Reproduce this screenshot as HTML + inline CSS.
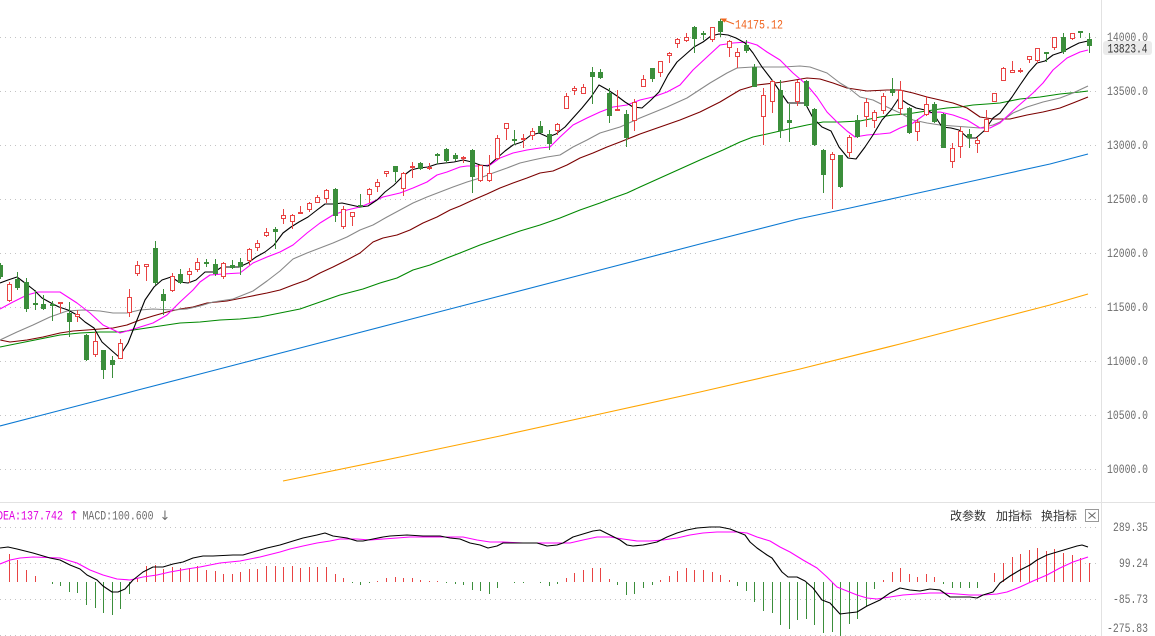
<!DOCTYPE html>
<html><head><meta charset="utf-8"><style>
html,body{margin:0;padding:0;background:#fff;}
svg{display:block;}
.ax{font-family:"Liberation Mono",monospace;font-size:13px;fill:#6e6e6e;}
</style></head><body>
<svg width="1155" height="636" viewBox="0 0 1155 636" xmlns="http://www.w3.org/2000/svg">
<rect width="1155" height="636" fill="#fff"/>
<g stroke="#c4c4c4" stroke-width="1" stroke-dasharray="1 4" fill="none" shape-rendering="crispEdges">
<path d="M0 37.5H1098M0 91.5H1098M0 145.5H1098M0 199.5H1098M0 253.5H1098M0 307.5H1098M0 361.5H1098M0 415.5H1098M0 469.5H1098"/>
<path d="M0 527.5H1098M0 563.5H1098M0 599.5H1098M0 635.5H1098"/>
</g>
<g stroke="#e2e2e2" stroke-width="1" shape-rendering="crispEdges">
<path d="M0 502.5H1155"/>
<path d="M1101.5 0V636"/>
</g>
<g fill="none" stroke-width="1.1" stroke-linejoin="round">
<polyline stroke="#ffa500" points="283,481 400,457 500,436 600,414 700,392 800,369 900,344 1000,318 1050,305 1088,294"/>
<polyline stroke="#0a78d2" points="0,426 50,413 100,400 138,390 200,374 250,361 300,348 400,322 500,296 600,270 700,244 798,219 850,208 900,197 950,186 1000,175 1050,164 1088,154"/>
<polyline stroke="#008800" points="0,347 20,343 40,339 60,335 80,333 100,332 120,332 140,329 160,326 180,323 200,322 220,320 240,319 260,317 280,313 300,309 320,302 340,295 363,289 380,283 397,278 413,270 430,265 447,258 460,253 480,245 500,238 520,231 540,225 560,218 580,210 600,203 613,198 627,193 640,187 660,178 680,169 700,160 723,150 740,142 753,137 767,134 780,131 793,128 807,125 823,122 840,122 860,121 880,117 893,115 907,114 920,112 933,110 947,108 960,107 973,105 987,104 1000,103 1020,99 1040,97 1060,94 1080,92 1088,91"/>
<polyline stroke="#7b0000" points="0,340 10,342 27,340 43,337 60,333 73,331 87,330 100,329 113,328 127,325 140,320 153,316 167,312 180,309 193,307 207,303 227,301 247,297 267,293 280,290 293,285 307,280 320,273 333,267 347,260 360,253 373,242 383,238 397,235 410,230 423,223 437,217 450,210 460,206 473,200 487,194 500,188 513,183 527,178 540,173 553,171 567,165 580,158 593,153 607,147 620,142 640,134 660,127 680,120 700,112 720,102 740,90 757,85 783,82 807,78 820,79 833,83 847,88 867,91 887,90 900,90 913,93 927,97 940,100 953,103 967,108 980,117 993,119 1010,119 1027,115 1043,112 1060,108 1073,103 1088,97"/>
<polyline stroke="#888888" points="0,340 17,332 33,325 50,317 67,311 83,310 100,311 113,313 127,313 140,310 153,309 173,310 187,309 200,306 213,302 233,299 253,291 267,281 280,271 293,259 307,253 320,248 333,243 347,237 360,230 373,225 387,217 400,210 413,203 427,197 440,192 453,187 467,182 480,178 493,173 507,168 520,163 533,160 547,157 560,155 573,147 587,140 600,133 620,127 640,118 667,107 687,98 710,83 727,73 737,68 753,67 783,67 800,66 810,67 827,73 840,83 850,89 860,97 873,100 887,107 900,113 913,120 927,123 940,125 953,126 967,127 980,128 993,125 1000,122 1013,113 1027,107 1043,102 1060,98 1073,93 1088,86"/>
<polyline stroke="#ff00ff" points="0,309 13,302 27,295 38,292 60,292 77,303 90,313 103,325 120,333 137,328 153,323 167,315 180,302 193,290 200,282 210,275 223,274 240,273 253,263 267,257 280,252 293,245 307,233 320,223 333,215 347,210 360,207 370,203 383,197 400,193 413,188 427,182 437,175 447,172 460,167 467,166 480,166 490,165 500,158 513,153 527,150 540,148 550,147 560,137 573,125 587,118 600,112 613,107 627,105 640,100 653,97 667,92 680,85 693,70 707,57 720,45 733,43 747,42 757,45 767,52 780,60 793,73 807,85 817,97 827,112 837,122 847,131 855,137 867,135 880,134 890,133 900,128 913,123 927,113 940,112 953,115 967,120 980,128 990,128 1000,123 1017,107 1033,93 1043,83 1053,70 1067,58 1080,52 1088,50"/>
<polyline stroke="#000000" points="0,283 8,280 17,277 25,283 34,290 42,298 51,303 59,307 68,310 77,315 85,322 94,328 102,342 111,350 119,357 128,343 137,320 145,300 154,287 162,280 171,277 179,282 188,283 196,280 205,272 214,272 222,267 231,267 239,267 248,263 256,257 265,252 274,245 283,233 291,227 299,222 308,217 317,210 325,204 334,204 342,203 351,205 360,207 368,206 377,200 385,192 394,185 403,176 411,170 419,168 428,167 437,164 445,163 454,162 463,160 472,162 480,165 488,166 497,158 505,151 513,145 522,142 531,135 539,133 548,137 556,134 565,127 573,118 582,108 591,97 599,85 608,90 617,96 625,102 633,107 642,108 651,100 659,92 668,75 677,62 685,55 694,47 703,42 711,36 719,34 728,35 736,38 745,43 753,53 762,67 772,80 779,90 788,103 797,103 805,103 813,118 822,127 831,131 839,147 848,158 856,159 865,147 873,135 882,120 891,110 899,98 908,104 916,108 925,110 933,113 942,127 951,128 959,130 968,138 976,138 985,130 993,118 1000,113 1012,97 1020,85 1029,72 1037,63 1045,61 1053,55 1062,52 1071,47 1079,43 1088,41"/>
</g>
<g shape-rendering="crispEdges">
<path stroke="#3b8e3b" stroke-width="1" fill="none" d="M0.5 263V279M17.5 272V290M26.5 278V312M35.5 290V310M43.5 295V310M52.5 301V321M69.5 302V337M86.5 334V361M103.5 350V379M112.5 356V378M155.5 241V285M163.5 289V315M180.5 269V284M206.5 259V267M215.5 259V276M232.5 260V269M240.5 258V275M275.5 227V249M335.5 188V222M360.5 194V207M395.5 166V182M420.5 162V170M437.5 153V164M446.5 148V163M455.5 153V161M472.5 149V193M514.5 130V145M540.5 121V133M549.5 130V150M592.5 67V104M600.5 69V79M609.5 88V123M626.5 110V147M652.5 68V82M694.5 26V53M703.5 31V40M720.5 19V37M746.5 40V53M754.5 64V87M780.5 80V138M789.5 104V142M806.5 80V107M814.5 108V146M823.5 149V193M840.5 155V188M857.5 115V138M892.5 78V96M909.5 107V134M934.5 102V123M943.5 113V148M969.5 129V148M1046.5 52V62M1063.5 33V54M1080.5 31V38M1089.5 33V53"/>
<path fill="#3b8e3b" d="M-2 265h5V277h-5zM15 279h5V288h-5zM24 282h5V309h-5zM33 303h5V305h-5zM41 304h5V309h-5zM50 304h5V306h-5zM67 313h5V322h-5zM84 335h5V360h-5zM101 350h5V370h-5zM110 360h5V365h-5zM153 248h5V283h-5zM161 294h5V301h-5zM178 274h5V283h-5zM204 262h5V264h-5zM213 264h5V274h-5zM230 265h5V268h-5zM238 262h5V267h-5zM273 229h5V232h-5zM333 189h5V216h-5zM358 205h5V207h-5zM393 166h5V172h-5zM418 163h5V169h-5zM435 154h5V156h-5zM444 149h5V161h-5zM453 155h5V159h-5zM470 150h5V177h-5zM512 139h5V141h-5zM538 126h5V133h-5zM547 134h5V144h-5zM590 72h5V77h-5zM598 72h5V78h-5zM607 93h5V116h-5zM624 114h5V138h-5zM650 68h5V79h-5zM692 27h5V39h-5zM701 33h5V35h-5zM718 21h5V32h-5zM744 45h5V51h-5zM752 67h5V87h-5zM778 90h5V131h-5zM787 120h5V123h-5zM804 81h5V106h-5zM812 109h5V145h-5zM821 150h5V175h-5zM838 155h5V187h-5zM855 120h5V137h-5zM890 89h5V93h-5zM907 108h5V133h-5zM932 104h5V122h-5zM941 114h5V148h-5zM967 134h5V138h-5zM1044 52h5V54h-5zM1061 37h5V52h-5zM1078 31h5V33h-5zM1087 39h5V46h-5z"/>
<path stroke="#e84343" stroke-width="1" fill="none" d="M9.5 282V302M60.5 302V313M77.5 310V322M95.5 332V357M120.5 339V359M129.5 289V317M137.5 261V276M146.5 264V281M172.5 273V292M189.5 268V283M197.5 258V272M223.5 262V279M249.5 248V265M257.5 240V251M266.5 228V237M283.5 209V224M292.5 214V229M300.5 206V214M309.5 202V212M317.5 195V203M326.5 189V203M343.5 206V229M352.5 212V226M369.5 188V203M377.5 179V192M386.5 171V177M403.5 172V196M412.5 162V178M429.5 163V170M463.5 156V163M480.5 165V182M489.5 155V182M497.5 135V160M506.5 123V140M523.5 134V148M532.5 128V140M557.5 123V135M566.5 93V109M574.5 86V95M583.5 84V94M617.5 90V111M634.5 99V131M643.5 75V87M660.5 61V77M669.5 52V63M677.5 38V48M686.5 33V42M712.5 27V42M729.5 40V57M737.5 48V68M763.5 88V145M772.5 80V113M797.5 80V106M832.5 152V209M849.5 135V157M866.5 98V127M874.5 110V128M883.5 93V114M900.5 81V115M917.5 119V141M926.5 96V116M952.5 143V168M960.5 127V158M977.5 137V153M986.5 110V132M994.5 93V102M1003.5 67V81M1012.5 61V73M1020.5 68V73M1029.5 56V63M1037.5 48V63M1054.5 37V50M1072.5 33V40"/>
<path stroke="#e84343" stroke-width="1" fill="#fff" d="M7.5 284.5h4V300.5h-4zM58.5 302.5h4V303.5h-4zM75.5 314.5h4V316.5h-4zM93.5 341.5h4V354.5h-4zM118.5 343.5h4V358.5h-4zM127.5 297.5h4V312.5h-4zM135.5 265.5h4V273.5h-4zM144.5 264.5h4V266.5h-4zM170.5 276.5h4V290.5h-4zM187.5 271.5h4V274.5h-4zM195.5 262.5h4V269.5h-4zM221.5 263.5h4V276.5h-4zM247.5 249.5h4V260.5h-4zM255.5 243.5h4V247.5h-4zM264.5 232.5h4V235.5h-4zM281.5 215.5h4V218.5h-4zM290.5 215.5h4V221.5h-4zM298.5 212.5h4V213.5h-4zM307.5 203.5h4V209.5h-4zM315.5 197.5h4V202.5h-4zM324.5 190.5h4V198.5h-4zM341.5 209.5h4V226.5h-4zM350.5 212.5h4V216.5h-4zM367.5 189.5h4V194.5h-4zM375.5 182.5h4V186.5h-4zM384.5 171.5h4V173.5h-4zM401.5 173.5h4V188.5h-4zM410.5 166.5h4V167.5h-4zM427.5 167.5h4V168.5h-4zM461.5 157.5h4V158.5h-4zM478.5 165.5h4V180.5h-4zM487.5 173.5h4V180.5h-4zM495.5 138.5h4V158.5h-4zM504.5 123.5h4V128.5h-4zM521.5 138.5h4V139.5h-4zM530.5 131.5h4V135.5h-4zM555.5 124.5h4V130.5h-4zM564.5 96.5h4V108.5h-4zM572.5 88.5h4V90.5h-4zM581.5 87.5h4V93.5h-4zM615.5 109.5h4V110.5h-4zM632.5 102.5h4V120.5h-4zM641.5 79.5h4V86.5h-4zM658.5 61.5h4V72.5h-4zM667.5 53.5h4V55.5h-4zM675.5 39.5h4V43.5h-4zM684.5 37.5h4V40.5h-4zM710.5 27.5h4V39.5h-4zM727.5 41.5h4V47.5h-4zM735.5 52.5h4V56.5h-4zM761.5 95.5h4V116.5h-4zM770.5 81.5h4V101.5h-4zM795.5 82.5h4V101.5h-4zM830.5 154.5h4V159.5h-4zM847.5 137.5h4V152.5h-4zM864.5 102.5h4V116.5h-4zM872.5 112.5h4V120.5h-4zM881.5 96.5h4V110.5h-4zM898.5 90.5h4V108.5h-4zM915.5 122.5h4V131.5h-4zM924.5 104.5h4V114.5h-4zM950.5 148.5h4V161.5h-4zM958.5 131.5h4V146.5h-4zM975.5 140.5h4V143.5h-4zM984.5 119.5h4V131.5h-4zM992.5 93.5h4V101.5h-4zM1001.5 68.5h4V80.5h-4zM1010.5 70.5h4V72.5h-4zM1018.5 70.5h4V71.5h-4zM1027.5 56.5h4V59.5h-4zM1035.5 48.5h4V60.5h-4zM1052.5 37.5h4V47.5h-4zM1070.5 33.5h4V38.5h-4z"/>
</g>
<polygon points="720,18.5 727,18.5 724.5,22.5" fill="#f0641e"/>
<line x1="725" y1="20.5" x2="734" y2="24" stroke="#f0641e" stroke-width="1"/>
<text x="735" y="28.5" font-family="Liberation Mono, monospace" font-size="13" fill="#f0641e" textLength="48" lengthAdjust="spacingAndGlyphs">14175.12</text>
<g class="ax">
<text x="1107" y="41" textLength="41" lengthAdjust="spacingAndGlyphs">14000.0</text>
<text x="1107" y="95" textLength="41" lengthAdjust="spacingAndGlyphs">13500.0</text>
<text x="1107" y="149" textLength="41" lengthAdjust="spacingAndGlyphs">13000.0</text>
<text x="1107" y="203" textLength="41" lengthAdjust="spacingAndGlyphs">12500.0</text>
<text x="1107" y="257" textLength="41" lengthAdjust="spacingAndGlyphs">12000.0</text>
<text x="1107" y="311" textLength="41" lengthAdjust="spacingAndGlyphs">11500.0</text>
<text x="1107" y="365" textLength="41" lengthAdjust="spacingAndGlyphs">11000.0</text>
<text x="1107" y="419" textLength="41" lengthAdjust="spacingAndGlyphs">10500.0</text>
<text x="1107" y="473" textLength="41" lengthAdjust="spacingAndGlyphs">10000.0</text>
</g>
<rect x="1103" y="41" width="49" height="14" rx="3" fill="#ebebeb"/>
<text x="1107.5" y="52.5" font-family="Liberation Mono, monospace" font-size="13" fill="#333" textLength="40" lengthAdjust="spacingAndGlyphs">13823.4</text>
<g shape-rendering="crispEdges" stroke-width="1" fill="none">
<path stroke="#e84343" d="M9.5 582V554M17.5 582V560M26.5 582V570M35.5 582V576M137.5 582V578M146.5 582V566M155.5 582V565M163.5 582V569M172.5 582V567M180.5 582V568M189.5 582V568M197.5 582V566M206.5 582V570M215.5 582V571M223.5 582V574M232.5 582V574M240.5 582V572M249.5 582V569M257.5 582V569M266.5 582V566M275.5 582V566M283.5 582V567M292.5 582V566M300.5 582V568M309.5 582V567M317.5 582V567M326.5 582V567M335.5 582V574M343.5 582V578M377.5 582V581M386.5 582V578M395.5 582V577M403.5 582V578M412.5 582V578M420.5 582V580M429.5 582V581M437.5 582V581M566.5 582V578M574.5 582V573M583.5 582V570M592.5 582V568M600.5 582V568M609.5 582V579M660.5 582V580M669.5 582V576M677.5 582V571M686.5 582V568M694.5 582V570M703.5 582V570M712.5 582V572M720.5 582V575M729.5 582V580M883.5 582V580M892.5 582V572M900.5 582V568M909.5 582V574M917.5 582V577M926.5 582V574M934.5 582V577M994.5 582V573M1003.5 582V563M1012.5 582V557M1020.5 582V554M1029.5 582V550M1037.5 582V548M1046.5 582V551M1054.5 582V549M1063.5 582V553M1072.5 582V555M1080.5 582V558M1089.5 582V563"/>
<path stroke="#3b8e3b" d="M52.5 582V584M60.5 582V586M69.5 582V592M77.5 582V593M86.5 582V605M95.5 582V608M103.5 582V613M112.5 582V615M120.5 582V609M129.5 582V594M352.5 582V583M360.5 582V585M369.5 582V583M446.5 582V583M455.5 582V584M463.5 582V585M472.5 582V590M480.5 582V591M489.5 582V594M497.5 582V588M514.5 582V583M523.5 582V583M540.5 582V583M549.5 582V586M557.5 582V584M617.5 582V585M626.5 582V595M634.5 582V594M643.5 582V588M652.5 582V585M737.5 582V586M746.5 582V591M754.5 582V602M763.5 582V611M772.5 582V613M780.5 582V625M789.5 582V629M797.5 582V620M806.5 582V619M814.5 582V625M823.5 582V633M832.5 582V632M840.5 582V636M849.5 582V624M857.5 582V619M866.5 582V606M874.5 582V589M943.5 582V584M952.5 582V588M960.5 582V588M969.5 582V588M977.5 582V588"/>
</g>
<g fill="none" stroke-width="1.1" stroke-linejoin="round">
<polyline stroke="#ff00ff" points="0,564 10,560 20,558 33,557 60,558 77,563 90,570 103,575 117,579 130,580 143,577 157,575 170,572 187,569 200,567 220,563 240,561 260,557 280,552 290,549 303,546 317,543 330,541 340,539 357,539 370,540 383,539 397,538 410,537 463,537 477,540 490,542 503,542 523,543 537,543 557,543 570,543 583,540 597,537 610,537 623,539 637,541 650,541 663,540 677,538 690,535 703,533 717,532 737,532 747,533 757,537 770,541 780,547 790,552 803,560 817,568 827,577 837,587 847,591 857,595 867,598 877,599 890,597 903,595 917,594 930,593 943,593 957,594 970,595 983,595 997,594 1007,592 1020,587 1033,581 1047,575 1060,568 1073,562 1088,557"/>
<polyline stroke="#000" points="0,548 8,547 17,549 33,553 50,558 60,560 70,565 80,569 87,575 97,580 103,586 112,592 118,592 125,589 133,580 143,572 153,567 163,567 173,564 183,562 193,558 203,556 213,556 233,555 243,555 253,552 267,548 280,545 293,541 303,538 317,535 325,533 333,536 347,538 357,541 363,541 373,539 383,537 390,536 407,535 423,536 440,536 450,538 460,539 470,543 480,545 488,548 497,546 503,543 523,543 537,543 547,546 557,545 563,543 573,537 583,534 593,531 600,530 610,535 620,540 627,545 633,546 643,545 657,542 667,537 677,533 687,530 697,528 710,527 720,527 730,529 740,533 745,535 750,542 757,548 767,555 772,558 777,565 782,572 788,577 797,577 805,581 813,588 822,600 830,603 840,614 848,613 857,612 867,606 880,600 890,593 900,588 910,590 920,591 930,589 940,590 950,597 960,597 970,597 977,598 983,595 993,592 1000,583 1010,576 1020,570 1030,565 1037,560 1047,555 1057,552 1067,549 1077,546 1082,545 1088,547"/>
</g>
<text x="-3" y="519.5" font-family="Liberation Mono, monospace" font-size="13" fill="#e000e0" textLength="66" lengthAdjust="spacingAndGlyphs">DEA:137.742</text>
<text x="68.5" y="520" font-family="DejaVu Sans, sans-serif" font-size="13" fill="#e000e0">↑</text>
<text x="82.5" y="519.5" font-family="Liberation Mono, monospace" font-size="13" fill="#6e6e6e" textLength="71" lengthAdjust="spacingAndGlyphs">MACD:100.600</text>
<text x="159.5" y="520" font-family="DejaVu Sans, sans-serif" font-size="13" fill="#6e6e6e">↓</text>
<g font-family="Liberation Sans, Noto Sans CJK SC, sans-serif" font-size="12" fill="#333">
<text x="950" y="520">改参数</text>
<text x="996" y="520">加指标</text>
<text x="1041" y="520">换指标</text>
</g>
<rect x="1085.5" y="509.5" width="13" height="12" fill="#fff" stroke="#999" stroke-width="1"/>
<path d="M1088.5 512.5L1095.5 518.5M1095.5 512.5L1088.5 518.5" stroke="#666" stroke-width="1"/>
<g class="ax">
<text x="1113" y="531" textLength="35" lengthAdjust="spacingAndGlyphs">289.35</text>
<text x="1119" y="567" textLength="29" lengthAdjust="spacingAndGlyphs">99.24</text>
<text x="1113" y="603" textLength="35" lengthAdjust="spacingAndGlyphs">-85.73</text>
<text x="1107" y="632" textLength="41" lengthAdjust="spacingAndGlyphs">-275.83</text>
</g>
</svg>
</body></html>
